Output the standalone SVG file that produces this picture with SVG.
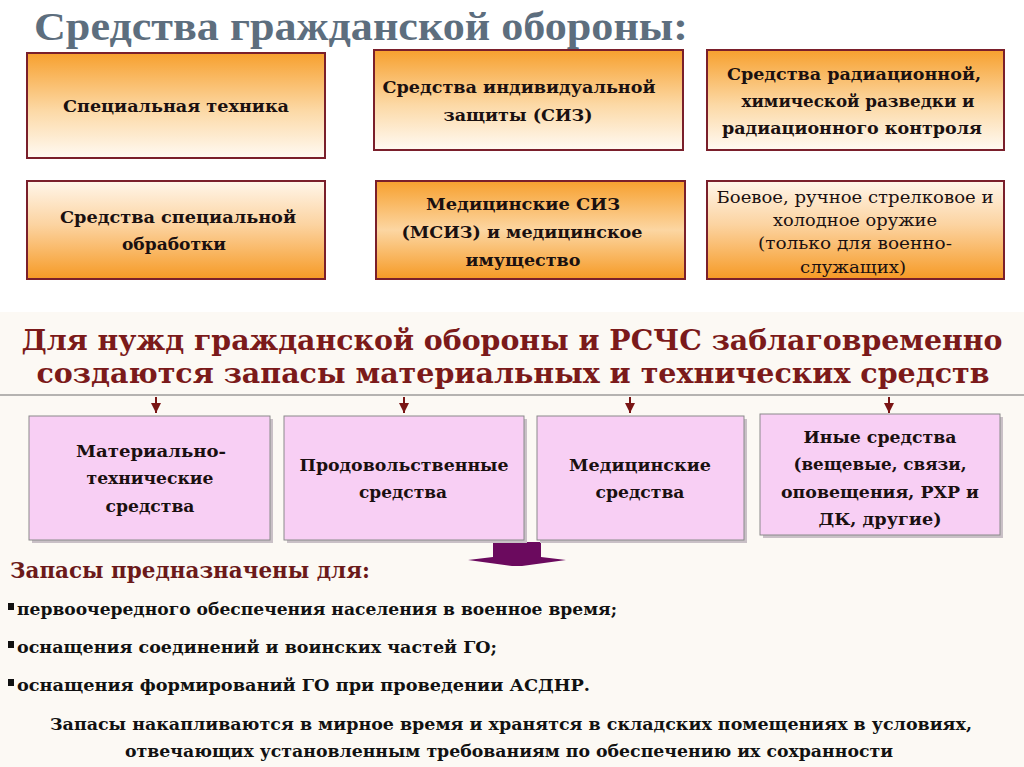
<svg xmlns="http://www.w3.org/2000/svg" width="1024" height="767" viewBox="0 0 1024 767">
<defs>
<linearGradient id="gTop" x1="0" y1="0" x2="0" y2="1">
<stop offset="0" stop-color="#f7a02e"/>
<stop offset="0.55" stop-color="#fcd9a6"/>
<stop offset="1" stop-color="#fffaf3"/>
</linearGradient>
<linearGradient id="gBot" x1="0" y1="0" x2="0" y2="1">
<stop offset="0" stop-color="#fff6ea"/>
<stop offset="0.45" stop-color="#fcd3a0"/>
<stop offset="1" stop-color="#f69a25"/>
</linearGradient>
<linearGradient id="gMid" x1="0" y1="0" x2="0" y2="1">
<stop offset="0" stop-color="#f7a02e"/>
<stop offset="0.5" stop-color="#fcd6a2"/>
<stop offset="1" stop-color="#f69a25"/>
</linearGradient>
<marker id="ah" viewBox="0 0 10 10" refX="10" refY="5" markerWidth="10" markerHeight="10" markerUnits="userSpaceOnUse" orient="auto">
<path d="M0,0 L10,5 L0,10 z" fill="#7a1515"/>
</marker>
</defs>
<style>
.ob{stroke:#7a1f2b;stroke-width:2}
.pb{fill:#f8cff4;stroke:#8a8a8a;stroke-width:1}
.sh{fill:#c9c0c6}
.bt{font-family:"DejaVu Serif","Liberation Serif",serif;font-weight:bold;font-size:17px;fill:#1a1010;text-anchor:middle}
.rt{font-family:"DejaVu Serif","Liberation Serif",serif;font-size:17px;fill:#1a1010;text-anchor:middle}
.hd{font-family:"DejaVu Serif","Liberation Serif",serif;font-weight:bold;font-size:28px;fill:#7b1a1a;text-anchor:middle}
.tt{font-family:"Liberation Serif","DejaVu Serif",serif;font-weight:bold;font-size:41px;fill:#5d6e7e}
.lt{font-family:"DejaVu Serif","Liberation Serif",serif;font-weight:bold;font-size:17px;fill:#111}
.st{font-family:"DejaVu Serif","Liberation Serif",serif;font-weight:bold;font-size:22px;fill:#6b1a1a}
.ct{font-family:"DejaVu Serif","Liberation Serif",serif;font-weight:bold;font-size:17px;fill:#111;text-anchor:middle}
.cn{stroke:#7a1515;stroke-width:2;fill:none}
</style>
<rect x="0" y="0" width="1024" height="767" fill="#ffffff"/>
<rect x="0" y="312" width="1024" height="455" fill="#fcf9f4"/>

<text class="tt" x="34" y="40" textLength="654" lengthAdjust="spacingAndGlyphs">Средства гражданской обороны:</text>

<g id="n1">
<rect class="ob" x="27" y="53" width="298" height="105" fill="url(#gTop)"/>
<text class="bt" x="176" y="112" textLength="226" lengthAdjust="spacingAndGlyphs">Специальная техника</text>
</g>
<g id="n2">
<rect class="ob" x="374" y="50" width="309" height="100" fill="url(#gTop)"/>
<text class="bt" x="519" y="93" textLength="273" lengthAdjust="spacingAndGlyphs">Средства индивидуальной</text>
<text class="bt" x="518" y="121" textLength="149" lengthAdjust="spacingAndGlyphs">защиты (СИЗ)</text>
</g>
<g id="n3">
<rect class="ob" x="707" y="50" width="297" height="100" fill="url(#gTop)"/>
<text class="bt" x="854" y="80" textLength="254" lengthAdjust="spacingAndGlyphs">Средства радиационной,</text>
<text class="bt" x="858" y="107" textLength="233" lengthAdjust="spacingAndGlyphs">химической разведки  и</text>
<text class="bt" x="852" y="134" textLength="260" lengthAdjust="spacingAndGlyphs">радиационного контроля</text>
</g>
<g id="n4">
<rect class="ob" x="27" y="181" width="298" height="98" fill="url(#gBot)"/>
<text class="bt" x="178" y="223" textLength="236" lengthAdjust="spacingAndGlyphs">Средства специальной</text>
<text class="bt" x="174" y="250" textLength="104" lengthAdjust="spacingAndGlyphs">обработки</text>
</g>
<g id="n5">
<rect class="ob" x="376" y="181" width="309" height="98" fill="url(#gMid)"/>
<text class="bt" x="523" y="210" textLength="194" lengthAdjust="spacingAndGlyphs">Медицинские СИЗ</text>
<text class="bt" x="522" y="238" textLength="241" lengthAdjust="spacingAndGlyphs">(МСИЗ) и медицинское</text>
<text class="bt" x="523" y="266" textLength="115" lengthAdjust="spacingAndGlyphs">имущество</text>
</g>
<g id="n6">
<rect class="ob" x="707" y="181" width="297" height="98" fill="url(#gBot)"/>
<text class="rt" x="855" y="203" textLength="277" lengthAdjust="spacingAndGlyphs">Боевое, ручное стрелковое и</text>
<text class="rt" x="855" y="226" textLength="164" lengthAdjust="spacingAndGlyphs">холодное оружие</text>
<text class="rt" x="855" y="249" textLength="194" lengthAdjust="spacingAndGlyphs">(только для военно-</text>
<text class="rt" x="853" y="273" textLength="106" lengthAdjust="spacingAndGlyphs">служащих)</text>
</g>

<g id="heading">
<text class="hd" x="512" y="350" textLength="981" lengthAdjust="spacingAndGlyphs">Для нужд гражданской обороны и РСЧС заблаговременно</text>
<text class="hd" x="513" y="383" textLength="953" lengthAdjust="spacingAndGlyphs">создаются запасы материальных и технических средств</text>
</g>

<g id="connectors">
<line x1="0" y1="395" x2="1024" y2="395" stroke="#6e6e6e" stroke-width="1.2"/>
<line class="cn" x1="156" y1="397" x2="156" y2="413" marker-end="url(#ah)"/>
<line class="cn" x1="404" y1="397" x2="404" y2="413" marker-end="url(#ah)"/>
<line class="cn" x1="630" y1="397" x2="630" y2="413" marker-end="url(#ah)"/>
<line class="cn" x1="889" y1="397" x2="889" y2="413" marker-end="url(#ah)"/>
<polygon points="493,542 541,542 541,557 566,560 522,566 512,566 468,560 493,557" fill="#6b0a5e"/>
</g>

<g id="p1">
<rect class="sh" x="32" y="419" width="241" height="124"/>
<rect class="pb" x="29" y="416" width="241" height="124"/>
<text class="bt" x="151" y="457" textLength="150" lengthAdjust="spacingAndGlyphs">Материально-</text>
<text class="bt" x="150" y="484" textLength="127" lengthAdjust="spacingAndGlyphs">технические</text>
<text class="bt" x="150" y="512" textLength="89" lengthAdjust="spacingAndGlyphs">средства</text>
</g>
<g id="p2">
<rect class="sh" x="287" y="419" width="240" height="124"/>
<rect class="pb" x="284" y="416" width="240" height="124"/>
<text class="bt" x="404" y="471" textLength="209" lengthAdjust="spacingAndGlyphs">Продовольственные</text>
<text class="bt" x="403" y="498" textLength="88" lengthAdjust="spacingAndGlyphs">средства</text>
</g>
<g id="p3">
<rect class="sh" x="540" y="419" width="207" height="124"/>
<rect class="pb" x="537" y="416" width="207" height="124"/>
<text class="bt" x="640" y="471" textLength="142" lengthAdjust="spacingAndGlyphs">Медицинские</text>
<text class="bt" x="640" y="498" textLength="89" lengthAdjust="spacingAndGlyphs">средства</text>
</g>
<g id="p4">
<rect class="sh" x="763" y="417" width="240" height="121"/>
<rect class="pb" x="760" y="414" width="240" height="121"/>
<text class="bt" x="880" y="443" textLength="153" lengthAdjust="spacingAndGlyphs">Иные средства</text>
<text class="bt" x="880" y="470" textLength="173" lengthAdjust="spacingAndGlyphs">(вещевые, связи,</text>
<text class="bt" x="880" y="498" textLength="198" lengthAdjust="spacingAndGlyphs">оповещения, РХР и</text>
<text class="bt" x="880" y="525" textLength="123" lengthAdjust="spacingAndGlyphs">ДК, другие)</text>
</g>

<g id="purpose">
<text class="st" x="10" y="578" textLength="360" lengthAdjust="spacingAndGlyphs">Запасы предназначены для:</text>
<rect x="8" y="603" width="6" height="7" fill="#111"/>
<text class="lt" x="17" y="615" textLength="600" lengthAdjust="spacingAndGlyphs">первоочередного обеспечения населения в военное время;</text>
<rect x="8" y="641" width="6" height="7" fill="#111"/>
<text class="lt" x="17" y="653" textLength="480" lengthAdjust="spacingAndGlyphs">оснащения соединений и воинских частей ГО;</text>
<rect x="8" y="679" width="6" height="7" fill="#111"/>
<text class="lt" x="17" y="691" textLength="573" lengthAdjust="spacingAndGlyphs">оснащения формирований ГО при проведении АСДНР.</text>
<text class="ct" x="511" y="730" textLength="922" lengthAdjust="spacingAndGlyphs">Запасы накапливаются в мирное время и хранятся в складских помещениях в условиях,</text>
<text class="ct" x="509" y="757" textLength="768" lengthAdjust="spacingAndGlyphs">отвечающих установленным требованиям по обеспечению их сохранности</text>
</g>
</svg>
